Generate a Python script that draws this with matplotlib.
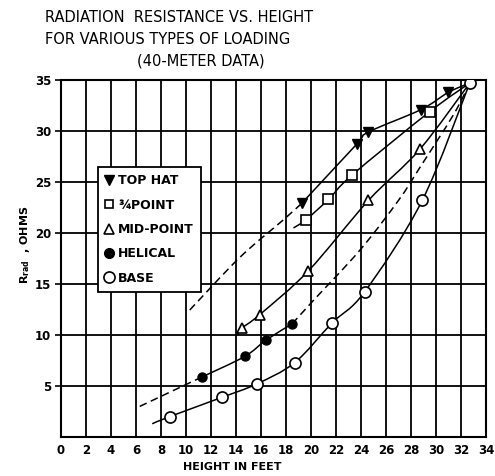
import numpy as np
import matplotlib.pyplot as plt
from matplotlib.lines import Line2D
from matplotlib.path import Path
from matplotlib.patches import PathPatch

# values (height in feet, resistance in ohms)
top_x = [19.25, 23.65, 24.6, 28.8, 31.0, 32.7]
top_y = [22.9, 28.7, 29.9, 32.1, 33.8, 34.7]
top_dash_x = [10.3, 14.3, 17.8, 19.25]
top_dash_y = [12.45, 17.6, 21.3, 22.9]

qtr_x = [19.6, 21.4, 23.3, 29.5]
qtr_y = [21.3, 23.3, 25.7, 31.9]
qtr_line_x = [18.6, 19.6, 21.4, 23.3, 29.5, 32.7]
qtr_line_y = [20.5, 21.3, 23.3, 25.7, 31.9, 34.7]

mid_x = [14.45, 15.9, 19.8, 24.6, 28.7]
mid_y = [10.65, 12.0, 16.3, 23.2, 28.2]
mid_line_x = [14.1, 14.45, 15.9, 19.8, 24.6, 28.7, 32.7]
mid_line_y = [10.0, 10.65, 12.0, 16.3, 23.2, 28.2, 34.7]

hel_x = [11.3, 14.7, 16.4, 18.5]
hel_y = [5.9, 7.9, 9.5, 11.1]
hel_low_x = [6.3, 11.3]
hel_low_y = [3.0, 5.9]
hel_up_x = [18.5, 20.2, 23.9, 27.0, 28.7, 31.4, 32.7]
hel_up_y = [11.1, 13.4, 18.3, 23.2, 26.4, 31.6, 34.7]

base_x = [8.7, 12.9, 15.65, 18.7, 21.7, 24.3, 28.9, 32.7]
base_y = [2.0, 3.9, 5.2, 7.3, 11.2, 14.25, 23.2, 34.7]
base_line_x = [7.3] + base_x
base_line_y = [1.3] + base_y

x_ticks = list(range(0, 35, 2))
y_ticks = [5, 10, 15, 20, 25, 30, 35]


def smooth_path(xs, ys):
    # cubic bezier through the points (catmull-rom style handles)
    p = np.column_stack([xs, ys]).astype(float)
    verts = [p[0]]
    codes = [Path.MOVETO]
    n = len(p)
    for i in range(n - 1):
        p0 = p[i - 1] if i > 0 else p[i]
        p3 = p[i + 2] if i + 2 < n else p[i + 1]
        c1 = p[i] + (p[i + 1] - p0) / 6.0
        c2 = p[i + 1] - (p3 - p[i]) / 6.0
        verts += [c1, c2, p[i + 1]]
        codes += [Path.CURVE4] * 3
    return Path(verts, codes)


def draw_curve(ax, xs, ys, dashed=False):
    ls = (0, (5, 3)) if dashed else '-'
    ax.add_patch(PathPatch(smooth_path(xs, ys), fill=False, edgecolor='black',
                           lw=1.1, ls=ls, zorder=2))


fig = plt.figure(figsize=(4.95, 4.76), dpi=100)
ax = fig.add_axes([0.1232, 0.0819, 0.8586, 0.750])

for x in x_ticks[1:-1]:
    ax.axvline(x, color='black', lw=1.3, zorder=1)
for y in y_ticks[:-1]:
    ax.axhline(y, color='black', lw=1.3, zorder=1)

draw_curve(ax, top_dash_x, top_dash_y, dashed=True)
draw_curve(ax, top_x, top_y)
draw_curve(ax, qtr_line_x, qtr_line_y)
draw_curve(ax, mid_line_x, mid_line_y)
draw_curve(ax, hel_low_x, hel_low_y, dashed=True)
draw_curve(ax, hel_x, hel_y)
draw_curve(ax, hel_up_x, hel_up_y, dashed=True)
draw_curve(ax, base_line_x, base_line_y)

ax.plot(top_x[:-1], top_y[:-1], 'v', color='black', ms=7, ls='none', zorder=3)
ax.plot(qtr_x, qtr_y, 's', mfc='white', mec='black', mew=1.2, ms=6.5, ls='none', zorder=3)
ax.plot(mid_x, mid_y, '^', mfc='white', mec='black', mew=1.2, ms=7.5, ls='none', zorder=3)
ax.plot(hel_x, hel_y, 'o', color='black', ms=6.5, ls='none', zorder=3)
ax.plot(base_x, base_y, 'o', mfc='white', mec='black', mew=1.2, ms=8, ls='none', zorder=3)

ax.set_xlim(0, 34)
ax.set_ylim(0, 35)
ax.set_xticks(x_ticks)
ax.set_yticks(y_ticks)
ax.tick_params(axis='x', length=0, pad=5, labelsize=8.5)
ax.tick_params(axis='y', length=4, width=1.2, pad=3, labelsize=8.5)
for lab in ax.get_xticklabels() + ax.get_yticklabels():
    lab.set_fontweight('bold')
for s in ax.spines.values():
    s.set_linewidth(1.5)

handles = [
    Line2D([], [], marker='v', color='black', ls='none', ms=7),
    Line2D([], [], marker='s', mfc='white', mec='black', mew=1.2, ls='none', ms=6),
    Line2D([], [], marker='^', mfc='white', mec='black', mew=1.2, ls='none', ms=7),
    Line2D([], [], marker='o', color='black', ls='none', ms=7),
    Line2D([], [], marker='o', mfc='white', mec='black', mew=1.2, ls='none', ms=8),
]
labels = ['TOP HAT', '¾POINT', 'MID-POINT', 'HELICAL', 'BASE']
leg = ax.legend(handles, labels, loc='upper left',
                bbox_to_anchor=(98 / 495, 1 - 167 / 476), bbox_transform=fig.transFigure,
                borderaxespad=0, fancybox=False, framealpha=1, edgecolor='black',
                handlelength=0.6, handletextpad=0.4, labelspacing=0.9,
                borderpad=0.6, prop={'weight': 'bold', 'size': 9})
leg.get_frame().set_linewidth(1.3)
leg.set_zorder(5)

fig.text(45 / 495, 1 - 17 / 476, 'RADIATION  RESISTANCE VS. HEIGHT',
         fontsize=10.5, va='center', ha='left')
fig.text(45 / 495, 1 - 39 / 476, 'FOR VARIOUS TYPES OF LOADING',
         fontsize=10.5, va='center', ha='left')
fig.text(201 / 495, 1 - 61 / 476, '(40-METER DATA)',
         fontsize=10.5, va='center', ha='center')

fig.text(232 / 495, 1 - 467 / 476, 'HEIGHT IN FEET', fontsize=8,
         fontweight='bold', ha='center', va='center')
fig.text(25 / 495, 1 - 245 / 476, r'$\mathbf{R}_{\mathbf{rad}}$  , OHMS', fontsize=8,
         fontweight='bold', rotation=90, ha='center', va='center')

fig.savefig('out.png', dpi=100)
